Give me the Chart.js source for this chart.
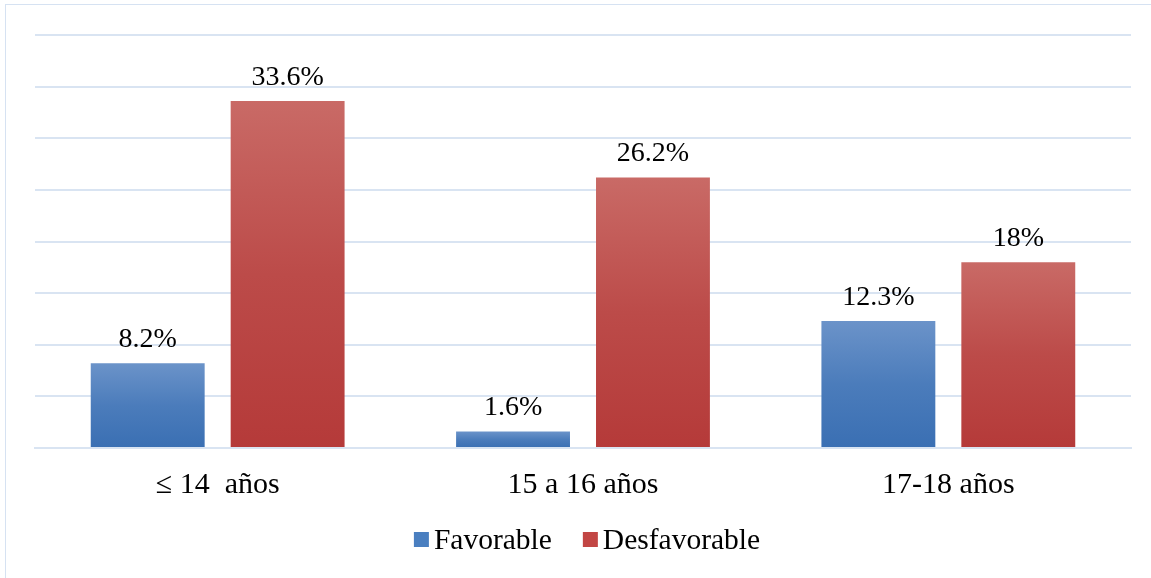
<!DOCTYPE html>
<html><head><meta charset="utf-8">
<script src="https://cdn.jsdelivr.net/npm/chart.js@4"></script>
<style>
html,body{margin:0;padding:0;background:#fff;}
#wrap{position:relative;width:1151px;height:578px;}
#frame{position:absolute;left:5px;top:4px;width:1160px;height:590px;border:1.5px solid #d6e2f2;box-sizing:border-box;}
canvas{position:absolute;left:0;top:0;}
</style></head>
<body><div id="wrap"><div id="frame"></div><canvas id="c" width="1151" height="578"></canvas></div>
<script>
const categories = ["≤ 14  años", "15 a 16 años", "17-18 años"];
const favorable = [8.2, 1.6, 12.3];
const desfavorable = [33.6, 26.2, 18];
const valueLabels = [["8.2%", "1.6%", "12.3%"], ["33.6%", "26.2%", "18%"]];
const seriesNames = ["Favorable", "Desfavorable"];
const legendColors = ["#4a7fc0", "#c24644"];

const FONT = "'Liberation Serif', 'Times New Roman', serif";

function mid(a, b) {
  const pa = [1,3,5].map(i=>parseInt(a.substr(i,2),16));
  const pb = [1,3,5].map(i=>parseInt(b.substr(i,2),16));
  return 'rgb(' + pa.map((x,i)=>Math.round(x*0.35+pb[i]*0.65)).join(',') + ')';
}
function grad(top, bottom) {
  return function(ctx) {
    const chart = ctx.chart;
    if (!chart.chartArea || ctx.type !== 'data') return bottom;
    const y = chart.scales.y;
    const y0 = y.getPixelForValue(ctx.raw), y1 = y.getPixelForValue(0);
    const g = chart.ctx.createLinearGradient(0, y0, 0, y1);
    g.addColorStop(0, top);
    g.addColorStop(0.5, mid(top, bottom));
    g.addColorStop(1, bottom);
    return g;
  };
}

const labelPlugin = {
  id: 'valLabels',
  afterDatasetsDraw(chart) {
    const ctx = chart.ctx;
    ctx.save();
    ctx.font = "28px " + FONT;
    ctx.fillStyle = '#000';
    ctx.textAlign = 'center';
    ctx.textBaseline = 'alphabetic';
    chart.data.datasets.forEach((ds, di) => {
      chart.getDatasetMeta(di).data.forEach((bar, i) => {
        ctx.fillText(valueLabels[di][i], bar.x, bar.y - 16);
      });
    });
    ctx.restore();
  }
};

const legendPlugin = {
  id: 'customLegend',
  afterDraw(chart) {
    const ctx = chart.ctx;
    ctx.save();
    ctx.font = "29.5px " + FONT;
    ctx.textBaseline = 'middle';
    ctx.textAlign = 'left';
    const box = 15, gap = 5, itemGap = 31;
    const widths = seriesNames.map(n => box + gap + ctx.measureText(n).width);
    const total = widths.reduce((a,b)=>a+b,0) + itemGap*(seriesNames.length-1);
    const ca = chart.chartArea;
    let x = (ca.left + ca.right)/2 - total/2 + 4;
    const yc = 540;
    seriesNames.forEach((n, i) => {
      ctx.fillStyle = legendColors[i];
      ctx.fillRect(x, yc - 8, box, box);
      ctx.fillStyle = '#000';
      ctx.fillText(n, x + box + gap, yc + 1);
      x += widths[i] + itemGap;
    });
    ctx.restore();
  }
};

new Chart(document.getElementById('c'), {
  type: 'bar',
  data: {
    labels: categories,
    datasets: [
      { label: seriesNames[0], data: favorable, backgroundColor: grad('#6b93c9', '#3a6fb3') },
      { label: seriesNames[1], data: desfavorable, backgroundColor: grad('#c96a66', '#b53a39') }
    ]
  },
  options: {
    responsive: false,
    animation: false,
    devicePixelRatio: 1,
    layout: { padding: { left: 35, right: 20, top: 35, bottom: 64 } },
    datasets: { bar: { categoryPercentage: 0.766, barPercentage: 0.814 } },
    scales: {
      x: {
        grid: { display: false },
        border: { display: true, color: '#d9e4f2', width: 2 },
        ticks: { color: '#000', font: { family: FONT, size: 30 }, padding: 11 }
      },
      y: {
        min: 0, max: 40,
        ticks: { display: false, stepSize: 5 },
        border: { display: false },
        grid: { color: '#d9e4f2', lineWidth: 2, drawTicks: false }
      }
    },
    plugins: {
      legend: { display: false },
      tooltip: { enabled: false }
    }
  },
  plugins: [labelPlugin, legendPlugin]
});
</script></body></html>
